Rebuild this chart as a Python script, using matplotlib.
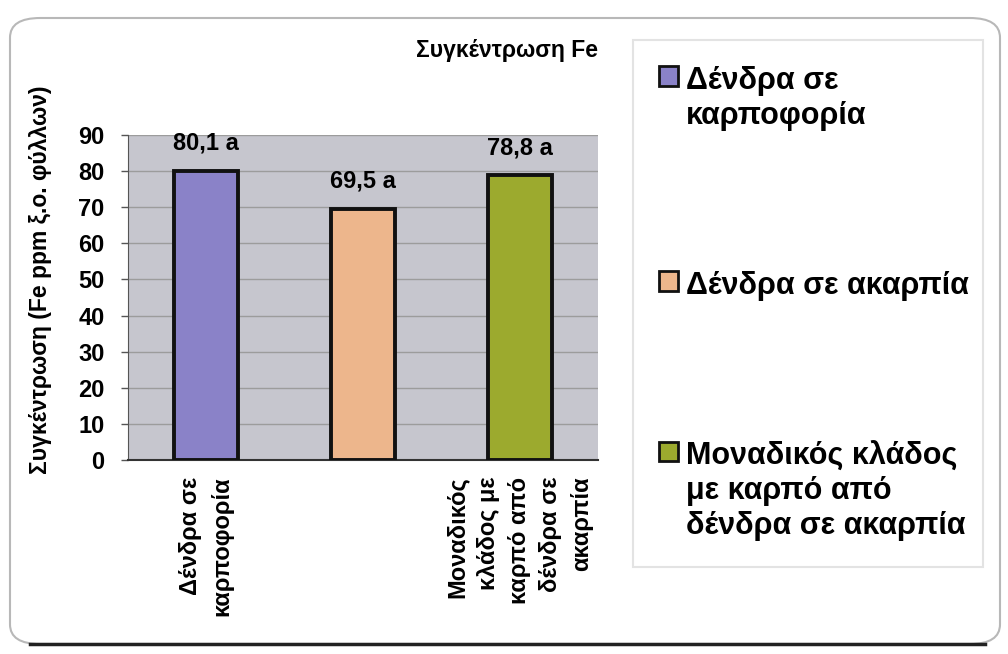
import matplotlib
matplotlib.use('Agg')
import matplotlib.pyplot as plt
from matplotlib.patches import FancyBboxPatch, Patch
from matplotlib.lines import Line2D

# ---- data ----
categories = ['Δένδρα σε\nκαρποφορία', '', 'Μοναδικός\nκλάδος με\nκαρπό από\nδένδρα σε\nακαρπία']
legend_labels = ['Δένδρα σε\nκαρποφορία', 'Δένδρα σε ακαρπία',
                 'Μοναδικός κλάδος\nμε καρπό από\nδένδρα σε ακαρπία']
values = [80.1, 69.5, 78.8]
value_labels = ['80,1 a', '69,5 a', '78,8 a']
colors = ['#8A82C8', '#EDB68C', '#9CAA2E']
yticks = [0, 10, 20, 30, 40, 50, 60, 70, 80, 90]
title = 'Συγκέντρωση Fe'
ylabel = 'Συγκέντρωση (Fe ppm ξ.ο. φύλλων)'

FONT = ['Liberation Sans', 'DejaVu Sans']

W, H = 1008, 654
fig = plt.figure(figsize=(W / 100, H / 100), dpi=100)
fig.patch.set_facecolor('white')

# outer rounded frame
frame = FancyBboxPatch((10 / W, 10 / H), 990 / W, 626 / H,
                       boxstyle='round,pad=0,rounding_size=0.03',
                       transform=fig.transFigure, facecolor='none',
                       edgecolor='#B8B8B8', linewidth=1.5, zorder=-10)
fig.add_artist(frame)
fig.add_artist(Line2D([30 / W, 985 / W], [10 / H, 10 / H], transform=fig.transFigure,
                      color='#222222', linewidth=2.5, zorder=-9))

ax = fig.add_axes([128 / W, 1 - 460 / H, 470 / W, 325 / H])
ax.set_zorder(2)
ax.set_facecolor('#C6C6CE')

x = list(range(len(values)))
bars = ax.bar(x, values, width=0.41, color=colors, edgecolor='#111111',
              linewidth=2.8, zorder=3)

for xi, v, lab in zip(x, values, value_labels):
    ax.annotate(lab, (xi, v), xytext=(0, 20), textcoords='offset points',
                ha='center', va='center', fontsize=17, fontweight='bold',
                family=FONT, zorder=4)

ax.set_xlim(-0.5, 2.5)
ax.set_ylim(0, 90)
ax.set_yticks(yticks)
ax.set_yticklabels([str(t) for t in yticks], fontsize=17, fontweight='bold', family=FONT)
ax.yaxis.grid(True, color='#9C9C9C', linewidth=1.0, zorder=1)
ax.set_axisbelow(True)
ax.tick_params(axis='y', length=5, width=1, color='#555555', pad=12)

ax.set_xticks(x)
ax.set_xticklabels(categories, rotation=90, va='top', ha='center',
                   multialignment='right', fontsize=17, fontweight='bold',
                   family=FONT, linespacing=1.45)
ax.tick_params(axis='x', length=0, pad=12)

for s in ['top', 'right']:
    ax.spines[s].set_visible(False)
ax.spines['left'].set_color('#555555')
ax.spines['bottom'].set_color('#333333')
ax.spines['bottom'].set_linewidth(1.5)

ax.set_ylabel(ylabel, fontsize=16.5, fontweight='bold', family=FONT)
ax.yaxis.set_label_coords(-76 / 470, 0.555)

fig.text(598 / W, 1 - 50 / H, title, ha='right', va='center', fontsize=16.5,
         fontweight='bold', family=FONT)

handles = [Patch(facecolor=c, edgecolor='#111111', linewidth=2) for c in colors]
leg = fig.legend(handles, legend_labels, loc='upper left',
                 bbox_to_anchor=(633 / W, 1 - 40 / H, 350 / W, 0.0), mode='expand',
                 borderaxespad=0,
                 prop={'family': FONT, 'weight': 'bold', 'size': 22},
                 handlelength=0.62, handleheight=0.62, handletextpad=0.25,
                 labelspacing=4.6, borderpad=0.85, frameon=True, fancybox=False,
                 shadow=False)
leg.set_zorder(3)
leg.get_frame().set_facecolor('white')
leg.get_frame().set_edgecolor('#DDDDDD')
leg.get_frame().set_linewidth(1.5)
for t in leg.get_texts():
    t.set_linespacing(1.2)
# align each marker with the first line of its label
for row in leg._legend_handle_box.get_children():
    for hp in row.get_children():
        hp.align = 'top'

fig.savefig('out.png', dpi=100, facecolor='white')
